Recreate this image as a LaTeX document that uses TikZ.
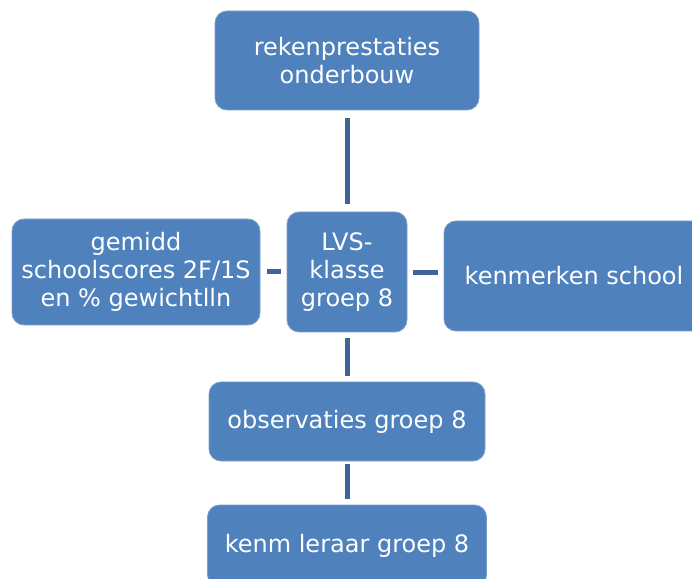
\documentclass[tikz,border=0pt]{standalone}
\usepackage{fontspec}
\setmainfont{DejaVu Sans}
\definecolor{boxblue}{HTML}{4F81BD}
\definecolor{linkblue}{HTML}{3F6496}
\begin{document}
\begin{tikzpicture}[x=1pt,y=1pt,
  box/.style={rectangle, rounded corners=12pt, fill=boxblue, draw=boxblue!75!white, line width=0.8pt,
    text=white, align=center, inner sep=0pt,
    font=\fontsize{24pt}{28pt}\selectfont},
  link/.style={draw=linkblue, line width=5pt}]
\useasboundingbox (0,0) rectangle (692,578);
\begin{scope}
\clip (0,0) rectangle (692,578);
\node[box, minimum width=264pt, minimum height=99pt] (top) at (347,517.5) {rekenprestaties\\onderbouw};
\node[box, minimum width=248pt, minimum height=106pt] (left) at (136,306) {gemidd\\schoolscores 2F/1S\\en \% gewichtlln};
\node[box, minimum width=120pt, minimum height=120pt] (mid) at (347,306) {LVS-\\klasse\\groep 8};
\node[box, minimum width=260pt, minimum height=110pt] (right) at (574,302) {kenmerken school};
\node[box, minimum width=276pt, minimum height=79pt] (obs) at (347,156.5) {observaties groep 8};
\node[box, minimum width=279pt, minimum height=82pt] (kenm) at (347,32) {kenm leraar groep 8};
\end{scope}
\draw[link, shorten <=8pt, shorten >=8pt] (top.south) -- (mid.north);
\draw[link, shorten <=6pt, shorten >=7pt] (mid.west) -- (mid.west -| left.east);
\draw[link, shorten <=6pt, shorten >=6pt] ([yshift=-1pt]mid.east) -- ([yshift=-1pt]mid.east -| right.west);
\draw[link, shorten <=6pt, shorten >=6pt] (mid.south) -- (obs.north);
\draw[link, shorten <=3pt, shorten >=6pt] (obs.south) -- (kenm.north);
\end{tikzpicture}
\end{document}
